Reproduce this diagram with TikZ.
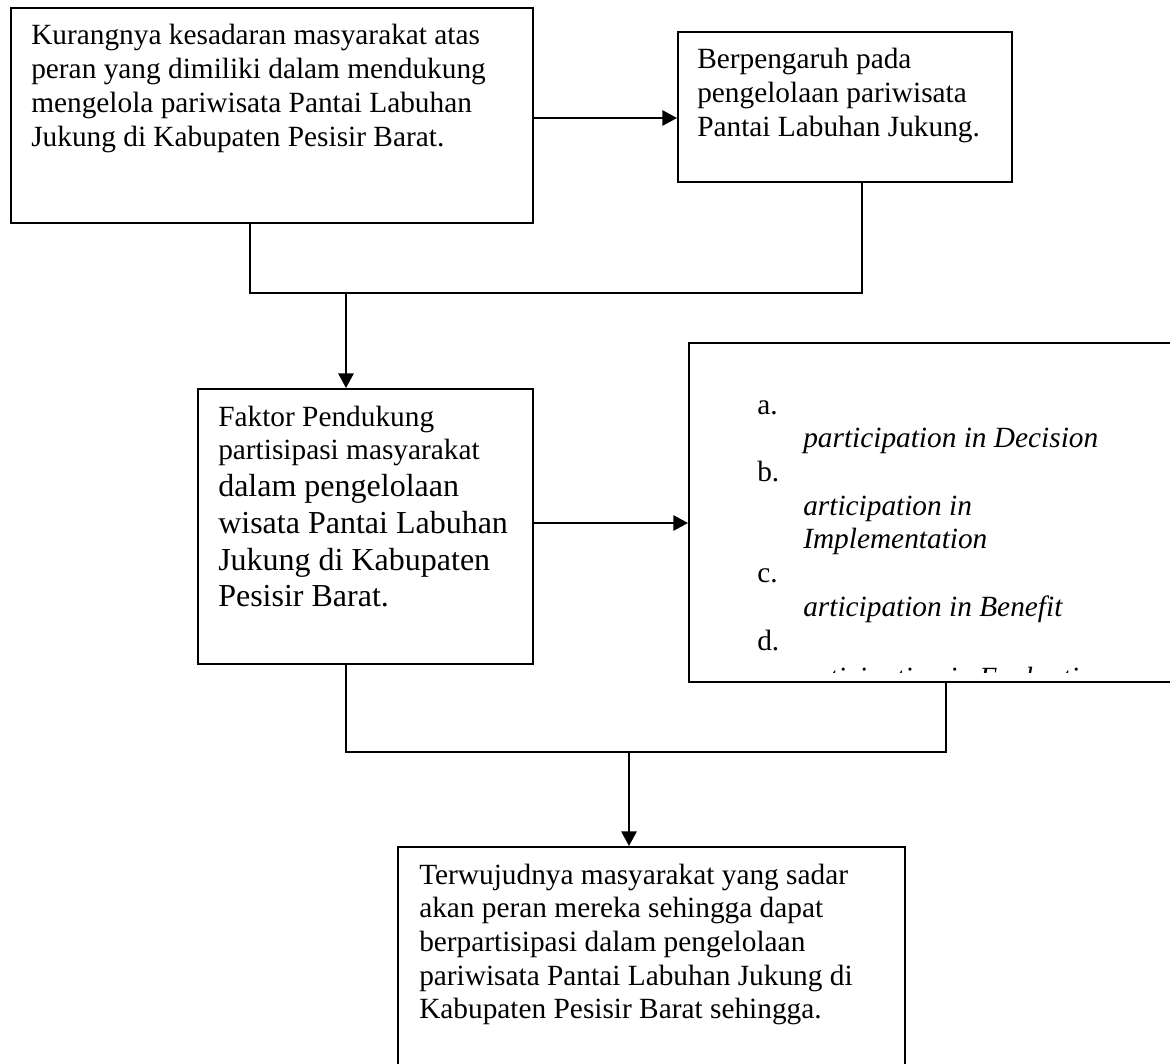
\documentclass[tikz,border=0pt]{standalone}
\usepackage{fontspec}
\setmainfont{Liberation Serif}
\usetikzlibrary{arrows.meta}
\newcommand{\mainsz}{\fontsize{22}{25.3}\selectfont}
\newcommand{\bigsz}{\fontsize{24}{27.6}\selectfont}
\newcommand{\ind}{\hspace*{34.5pt}}
\tikzset{
  box/.style={draw, line width=1.5pt, inner sep=0pt, anchor=north west},
  conn/.style={line width=1.5pt},
  arr/.style={line width=1.5pt, -{Triangle[length=11pt,width=11.5pt]}},
  txt/.style={anchor=base west, inner sep=0pt},
}
\begin{document}
\begin{tikzpicture}[x=0.75pt, y=-0.75pt]
\useasboundingbox (0,0) rectangle (1170,1063);
\clip (0,0) rectangle (1170,1063);
\fill[white] (0,0) rectangle (1170,1063);

% boxes
\node[box, minimum width=391.5pt, minimum height=161.25pt] (b1) at (10,7) {};
\node[box, minimum width=250.5pt, minimum height=112.5pt] (b2) at (677,31) {};
\node[box, minimum width=251.25pt, minimum height=206.25pt] (b3) at (197,388) {};
\node[box, minimum width=390pt, minimum height=254.25pt] (b4) at (688,342) {};
\node[box, minimum width=380.25pt, minimum height=187.5pt] (b5) at (397,846) {};

% texts
\node[txt] (t1) at (31,45) {\parbox[t]{420pt}{\mainsz Kurangnya kesadaran masyarakat atas\\
peran yang dimiliki dalam mendukung\\
mengelola pariwisata Pantai Labuhan\\
Jukung di Kabupaten Pesisir Barat.}};

\node[txt] (t2) at (697,69) {\parbox[t]{300pt}{\mainsz Berpengaruh pada\\
pengelolaan pariwisata\\
Pantai Labuhan Jukung.}};

\node[txt] (t3) at (218,426) {\parbox[t]{300pt}{\mainsz Faktor Pendukung\par
partisipasi masyarakat\par
\bigsz dalam pengelolaan\par
wisata Pantai Labuhan\par
Jukung di Kabupaten\par
Pesisir Barat.}};

\begin{scope}
\clip (689,343) rectangle (1170,672);
\node[txt] (t4) at (757,414) {\parbox[t]{400pt}{\mainsz a.\\
\ind\textit{participation in Decision}\\
b.\\
\ind\textit{articipation in}\\
\ind\textit{Implementation}\\
c.\\
\ind\textit{articipation in Benefit}\\
d.\\[3pt]
\ind\textit{articipation in Evaluation}}};
\end{scope}

\node[txt] (t5) at (419,884) {\parbox[t]{420pt}{\mainsz Terwujudnya masyarakat yang sadar\\
akan peran mereka sehingga dapat\\
berpartisipasi dalam pengelolaan\\
pariwisata Pantai Labuhan Jukung di\\
Kabupaten Pesisir Barat sehingga.}};

% connectors
\coordinate (p1) at (532,118);
\draw[arr] (b1.east |- p1) -- (b2.west |- p1);
\coordinate (c1) at (250,293);
\coordinate (c2) at (862,293);
\coordinate (c3) at (346,293);
\draw[conn] (b1.south -| c1) -- (c1) -- (c2) -- (b2.south -| c2);
\draw[arr] (c3) -- (b3.north -| c3);

\coordinate (p2) at (532,523);
\draw[arr] (b3.east |- p2) -- (b4.west |- p2);
\coordinate (c4) at (346,752);
\coordinate (c5) at (946,752);
\coordinate (c6) at (629,752);
\draw[conn] (b3.south -| c4) -- (c4) -- (c5) -- (b4.south -| c5);
\draw[arr] (c6) -- (b5.north -| c6);
\end{tikzpicture}
\end{document}
